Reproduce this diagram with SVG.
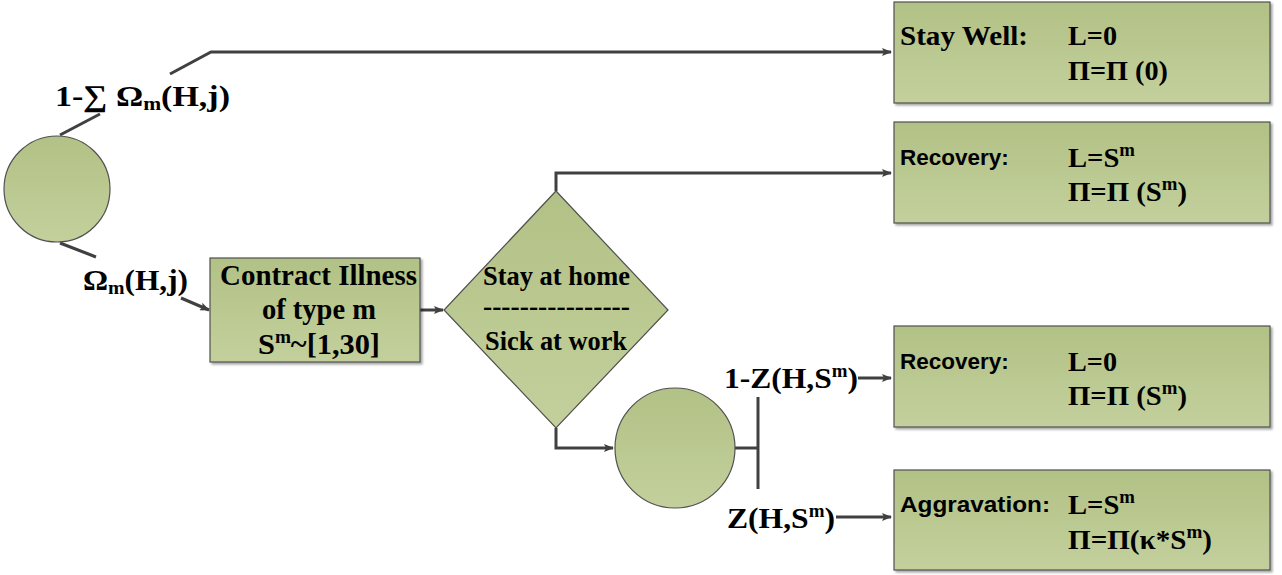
<svg xmlns="http://www.w3.org/2000/svg" width="1282" height="575" viewBox="0 0 1282 575">
<defs>
<linearGradient id="g" x1="0" y1="0" x2="0" y2="1">
<stop offset="0" stop-color="#b2c185"/>
<stop offset="1" stop-color="#c3d09d"/>
</linearGradient>
<marker id="ah" markerWidth="10" markerHeight="8" refX="9" refY="4" orient="auto" markerUnits="userSpaceOnUse">
<path d="M0,0 L10,4 L0,8 L2,4 Z" fill="#404040"/>
</marker>
<filter id="sh" x="-5%" y="-5%" width="110%" height="115%">
<feDropShadow dx="2" dy="2" stdDeviation="1.2" flood-color="#000" flood-opacity="0.35"/>
</filter>
</defs>
<style>
.shape{fill:url(#g);stroke:#505050;stroke-width:1.2}
.box{fill:url(#g);stroke:#505050;stroke-width:1.2;filter:url(#sh)}
text{font-family:'Liberation Serif','Times New Roman','DejaVu Serif',serif;font-weight:bold;fill:#000}
.t{font-size:27.5px}
.d{font-size:26.5px}
.l{font-size:30px}
.m{font-size:28.5px}
.s{font-family:'Liberation Sans',Arial,sans-serif;font-size:22.5px}
.c{stroke:#404040;stroke-width:3;fill:none}
.sup{font-size:18px}
.sub{font-size:19px}
</style>
<g id="connectors">
<path class="c" d="M60,135 L100,114"/>
<path class="c" d="M170,74 L211,52 L891,52" marker-end="url(#ah)"/>
<path class="c" d="M60,243 L96,257"/>
<path class="c" d="M181,298 L209,310" marker-end="url(#ah)"/>
<path class="c" d="M420,310 L443,310" marker-end="url(#ah)"/>
<path class="c" d="M556,191 L556,173 L891,173" marker-end="url(#ah)"/>
<path class="c" d="M556,428 L556,448 L613,448" marker-end="url(#ah)"/>
<path class="c" d="M735,448 L758,448"/>
<path class="c" d="M758,397 L758,489"/>
<path class="c" d="M858,378 L891,378" marker-end="url(#ah)"/>
<path class="c" d="M836,517 L891,517" marker-end="url(#ah)"/>
</g>
<g id="labels">
<text class="l" x="55" y="106" textLength="175" lengthAdjust="spacingAndGlyphs">1-∑ Ω<tspan class="sub" dy="4">m</tspan><tspan dy="-4">(H,j)</tspan></text>
<text class="l" x="83" y="290" textLength="105" lengthAdjust="spacingAndGlyphs">Ω<tspan class="sub" dy="4">m</tspan><tspan dy="-4">(H,j)</tspan></text>
<text class="l" x="724" y="388" textLength="134" lengthAdjust="spacingAndGlyphs">1-Z(H,S<tspan class="sup" dy="-11">m</tspan><tspan dy="11">)</tspan></text>
<text class="l" x="727" y="528" textLength="108" lengthAdjust="spacingAndGlyphs">Z(H,S<tspan class="sup" dy="-11">m</tspan><tspan dy="11">)</tspan></text>
</g>
<g id="chance1">
<circle class="shape" cx="57" cy="189" r="53"/>
</g>
<g id="contract">
<rect class="box" x="210" y="258" width="210" height="104"/>
<text class="m" x="220" y="285" textLength="197" lengthAdjust="spacingAndGlyphs">Contract Illness</text>
<text class="m" x="262" y="319" textLength="114" lengthAdjust="spacingAndGlyphs">of type m</text>
<text class="m" x="258" y="354" textLength="122" lengthAdjust="spacingAndGlyphs">S<tspan class="sup" dy="-11">m</tspan><tspan dy="11">~[1,30]</tspan></text>
</g>
<g id="decision">
<polygon class="shape" points="556,191 668,310 556,428 444,310"/>
<text class="d" x="483" y="285" textLength="147" lengthAdjust="spacingAndGlyphs">Stay at home</text>
<text class="d" x="483" y="315" textLength="147" lengthAdjust="spacingAndGlyphs">----------------</text>
<text class="d" x="485" y="350" textLength="142" lengthAdjust="spacingAndGlyphs">Sick at work</text>
</g>
<g id="chance2">
<circle class="shape" cx="675" cy="448" r="60"/>
</g>
<g id="staywell">
<rect class="box" x="894" y="2" width="376" height="101"/>
<text class="t" x="900" y="45" textLength="128" lengthAdjust="spacingAndGlyphs">Stay Well:</text>
<text class="t" x="1068" y="45" textLength="49" lengthAdjust="spacingAndGlyphs">L=0</text>
<text class="t" x="1068" y="80" textLength="100" lengthAdjust="spacingAndGlyphs">Π=Π (0)</text>
</g>
<g id="recovery1">
<rect class="box" x="894" y="122" width="376" height="101"/>
<text class="s" x="900" y="165">Recovery:</text>
<text class="t" x="1068" y="167" textLength="67" lengthAdjust="spacingAndGlyphs">L=S<tspan class="sup" dy="-11">m</tspan></text>
<text class="t" x="1068" y="201" textLength="119" lengthAdjust="spacingAndGlyphs">Π=Π (S<tspan class="sup" dy="-11">m</tspan><tspan dy="11">)</tspan></text>
</g>
<g id="recovery2">
<rect class="box" x="894" y="326" width="376" height="101"/>
<text class="s" x="900" y="369">Recovery:</text>
<text class="t" x="1068" y="371" textLength="49" lengthAdjust="spacingAndGlyphs">L=0</text>
<text class="t" x="1068" y="405" textLength="119" lengthAdjust="spacingAndGlyphs">Π=Π (S<tspan class="sup" dy="-11">m</tspan><tspan dy="11">)</tspan></text>
</g>
<g id="aggravation">
<rect class="box" x="894" y="470" width="376" height="100"/>
<text class="s" x="900" y="512" textLength="150" lengthAdjust="spacingAndGlyphs">Aggravation:</text>
<text class="t" x="1068" y="514" textLength="67" lengthAdjust="spacingAndGlyphs">L=S<tspan class="sup" dy="-11">m</tspan></text>
<text class="t" x="1068" y="549" textLength="144" lengthAdjust="spacingAndGlyphs">Π=Π(κ*S<tspan class="sup" dy="-11">m</tspan><tspan dy="11">)</tspan></text>
</g>
</svg>
